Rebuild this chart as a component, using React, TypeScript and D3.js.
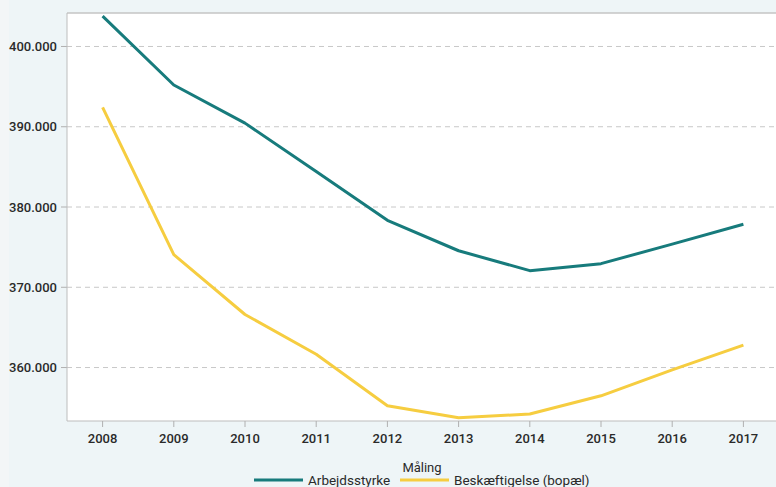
import React from "react";
import * as d3 from "d3";

const years = ["2008", "2009", "2010", "2011", "2012", "2013", "2014", "2015", "2016", "2017"];
const arbejdsstyrke = [403780, 395200, 390450, 384420, 378340, 374550, 372070, 372940, 375380, 377860];
const beskaeftigelse = [392410, 374060, 366610, 361650, 355240, 353750, 354210, 356480, 359700, 362800];
const yTicks = [360000, 370000, 380000, 390000, 400000];
const seriesNames = ["Arbejdsstyrke", "Beskæftigelse (bopæl)"];
const seriesColors = ["#177b7c", "#f6cd40"];
const legendTitle = "Måling";

const W = 776;
const H = 487;
const left = 67;
const top = 13;
const bottom = 421;

export default function App() {
  const x = d3.scalePoint<string>().domain(years).range([left, 779]).padding(0.5);
  const y = d3.scaleLinear().domain([353340, 404170]).range([bottom, top]);
  const fmt = (v: number) => d3.format(",")(v).replace(/,/g, ".");
  const line = d3
    .line<number>()
    .x((_, i) => x(years[i]) as number)
    .y((d) => y(d));
  const all = [arbejdsstyrke, beskaeftigelse];
  const font = "Roboto, 'DejaVu Sans', sans-serif";
  const textColor = "#2a2a2a";
  return (
    <div style={{ position: "fixed", left: 0, top: 0, width: W, height: H }}>
      <svg width={W} height={H} style={{ display: "block" }} fontFamily={font}>
        <rect x={0} y={0} width={W} height={H} fill="#eef5f7" />
        <rect x={0} y={0} width={9} height={H} fill="#f3f6f7" />
        <rect x={left} y={top} width={W - left} height={bottom - top} fill="#ffffff" />
        {yTicks.map((t) => (
          <g key={t}>
            <line x1={left} x2={W} y1={y(t)} y2={y(t)} stroke="#c8c8c8" strokeDasharray="5,4" strokeWidth={1} />
            <line x1={left - 6} x2={left} y1={y(t)} y2={y(t)} stroke="#b0b0b0" strokeWidth={1} />
            <text x={57} y={y(t)} dy="0.36em" textAnchor="end" fontSize={13} fontWeight={500} fill={textColor}>
              {fmt(t)}
            </text>
          </g>
        ))}
        <line x1={left} x2={W} y1={top} y2={top} stroke="#c4c4c4" strokeWidth={1.5} />
        <line x1={left} x2={left} y1={top} y2={bottom} stroke="#bdbdbd" strokeWidth={1} />
        <line x1={left} x2={W} y1={bottom} y2={bottom} stroke="#bdbdbd" strokeWidth={1} />
        {years.map((yr) => (
          <g key={yr}>
            <line x1={x(yr)} x2={x(yr)} y1={bottom} y2={bottom + 6} stroke="#b0b0b0" strokeWidth={1} />
            <text x={x(yr)} y={438} dy="0.36em" textAnchor="middle" fontSize={13} fontWeight={500} fill={textColor}>
              {yr}
            </text>
          </g>
        ))}
        {all.map((s, i) => (
          <path key={i} d={line(s) || ""} fill="none" stroke={seriesColors[i]} strokeWidth={3} strokeLinejoin="round" />
        ))}
        <text x={422} y={467} dy="0.36em" textAnchor="middle" fontSize={13} fill={textColor}>
          {legendTitle}
        </text>
        <line x1={254} x2={303} y1={480} y2={480} stroke={seriesColors[0]} strokeWidth={3} />
        <text x={308} y={480} dy="0.36em" fontSize={13.5} fill={textColor}>
          {seriesNames[0]}
        </text>
        <line x1={400} x2={449} y1={480} y2={480} stroke={seriesColors[1]} strokeWidth={3} />
        <text x={454} y={480} dy="0.36em" fontSize={13.5} fill={textColor}>
          {seriesNames[1]}
        </text>
      </svg>
    </div>
  );
}
